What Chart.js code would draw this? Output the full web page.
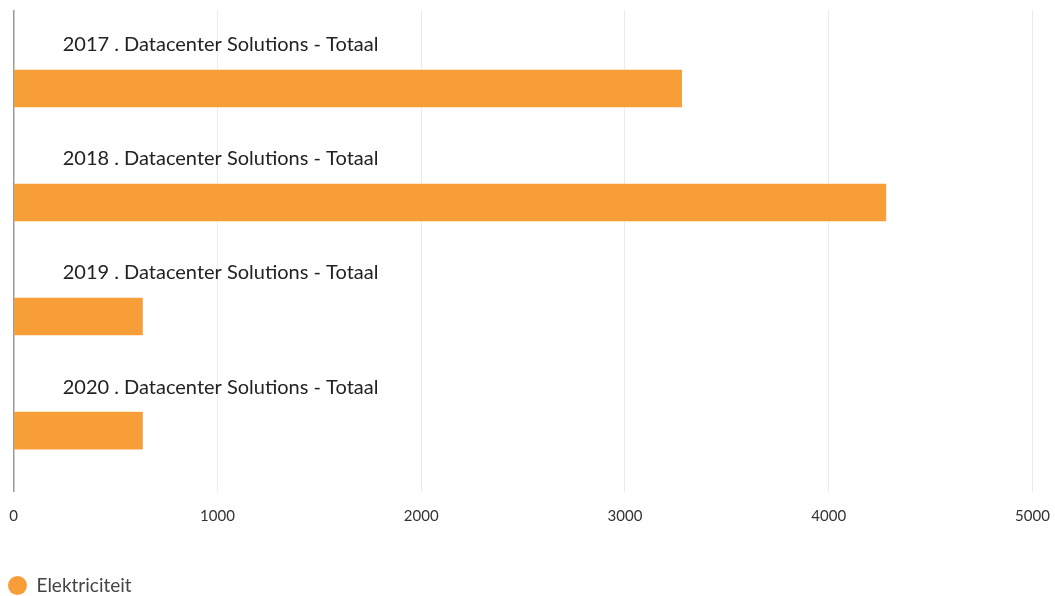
<!DOCTYPE html>
<html>
<head>
<meta charset="utf-8">
<script src="https://cdn.jsdelivr.net/npm/chart.js@4.4.1/dist/chart.umd.min.js"></script>
<style>
  html, body { margin: 0; padding: 0; background: #ffffff; }
  #wrap { width: 1055px; height: 596px; position: relative; }
</style>
</head>
<body>
<div id="wrap"><canvas id="c" width="1055" height="596"></canvas></div>
<script>
const categories = [
  "2017 . Datacenter Solutions - Totaal",
  "2018 . Datacenter Solutions - Totaal",
  "2019 . Datacenter Solutions - Totaal",
  "2020 . Datacenter Solutions - Totaal"
];
const seriesName = "Elektriciteit";
const elektriciteit = [3278, 4280, 632, 632];
const xTicks = [0, 1000, 2000, 3000, 4000, 5000];

const FONT = "Lato, 'Open Sans', sans-serif";

const categoryLabels = {
  id: 'categoryLabels',
  afterDatasetsDraw(chart) {
    const { ctx, chartArea, scales } = chart;
    ctx.save();
    ctx.font = "20px " + FONT;
    ctx.fillStyle = "#222222";
    ctx.textAlign = "left";
    ctx.textBaseline = "middle";
    categories.forEach((lab, i) => {
      const y = scales.y.getPixelForValue(i) - 43.5;
      ctx.fillText(lab, chartArea.left + 49, y);
    });
    ctx.restore();
  }
};

new Chart(document.getElementById('c'), {
  type: 'bar',
  data: {
    datasets: [{
      label: seriesName,
      data: elektriciteit.map((v, i) => ({ x: v, y: i })),
      backgroundColor: '#f79e38',
      borderWidth: 0,
      barThickness: 37
    }]
  },
  options: {
    indexAxis: 'y',
    responsive: false,
    animation: false,
    layout: { padding: { top: 10, left: 0, right: 0, bottom: -9 } },
    scales: {
      x: {
        type: 'linear',
        min: 0, max: 5000,
        afterBuildTicks: s => { s.ticks = xTicks.map(v => ({ value: v })); },
        afterFit: s => { s.paddingLeft = 13.7; s.paddingRight = 22.5; s.height = 76; },
        grid: {
          drawTicks: false,
          color: c => c.tick && c.tick.value === 0 ? '#9a9a9a' : '#ebebeb',
          lineWidth: c => c.tick && c.tick.value === 0 ? 1.5 : 1
        },
        border: { display: false },
        ticks: {
          padding: 15, color: '#333333',
          font: { family: FONT, size: 15 },
          callback: v => String(v)
        }
      },
      y: {
        type: 'linear',
        reverse: true,
        offset: false,
        min: -0.6886, max: 3.539,
        display: false
      }
    },
    plugins: {
      legend: {
        position: 'bottom',
        align: 'start',
        labels: {
          usePointStyle: true,
          pointStyle: 'circle',
          boxWidth: 19, boxHeight: 13.4,
          color: '#444444',
          font: { family: FONT, size: 19 },
          padding: 8
        }
      },
      tooltip: { enabled: false }
    }
  },
  plugins: [categoryLabels]
});
</script>
</body>
</html>
